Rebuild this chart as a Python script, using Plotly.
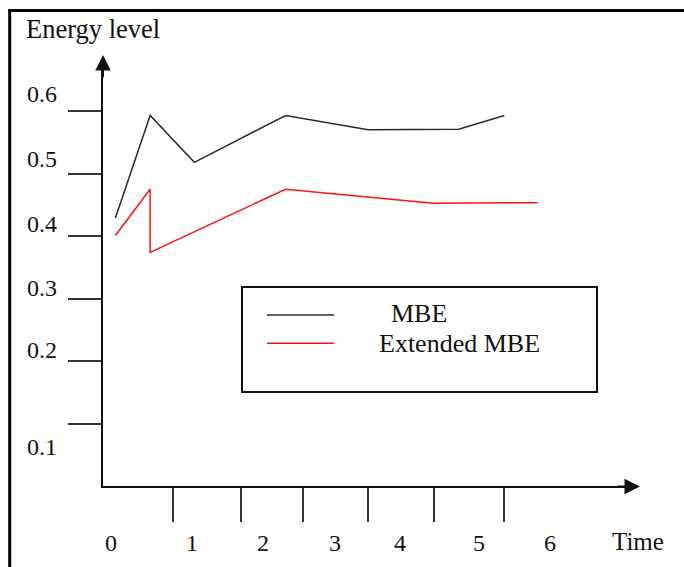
import plotly.graph_objects as go

# ---------------- data ----------------
time_mbe = [0, 0.48, 1.09, 2.35, 3.49, 4.74, 5.37]
energy_mbe = [0.429, 0.593, 0.518, 0.593, 0.570, 0.571, 0.593]

time_ext = [0, 0.48, 0.48, 2.35, 4.39, 5.83]
energy_ext = [0.401, 0.475, 0.374, 0.475, 0.4525, 0.4535]

series_names = ["MBE", "Extended MBE"]

x_label_values = [0, 1, 2, 3, 4, 5, 6]
x_tick_labels = ["0", "1", "2", "3", "4", "5", "6"]
x_tick_marks = [0.80, 1.74, 2.59, 3.49, 4.40, 5.37]

y_tick_values = [0.1, 0.2, 0.3, 0.4, 0.5, 0.6]
y_tick_labels = ["0.1", "0.2", "0.3", "0.4", "0.5", "0.6"]

x_title = "Time"
y_title = "Energy level"

# ---------------- layout helpers ----------------
W, H = 684, 567


def px(x):
    return x / W


def py(y):
    return 1 - y / H


FONT = "Liberation Serif"
INK = "#111111"
tick_font = dict(family=FONT, size=24, color=INK)
title_font = dict(family=FONT, size=25, color=INK)
ytitle_font = dict(family=FONT, size=26.5, color=INK)
legend_font = dict(family=FONT, size=26, color=INK)

# label nudges in pixels (labels in the drawing sit off their ticks)
y_label_shift = [-23, 11, 11, 12, 15, 17]
x_label_shift = [-4, 4, 3, 2, -5, 1, 0]

fig = go.Figure()
fig.add_trace(go.Scatter(x=time_mbe, y=energy_mbe, mode="lines", name=series_names[0],
                         line=dict(color="#2a2a2a", width=1.5), showlegend=False))
fig.add_trace(go.Scatter(x=time_ext, y=energy_ext, mode="lines", name=series_names[1],
                         line=dict(color="#ff1010", width=1.5), showlegend=False))

annotations = []
for v, lab, s in zip(y_tick_values, y_tick_labels, y_label_shift):
    annotations.append(dict(x=px(41.7), xref="paper", y=v, yref="y", yshift=s, text=lab,
                            showarrow=False, font=tick_font, xanchor="center", yanchor="middle"))
for t, lab, s in zip(x_label_values, x_tick_labels, x_label_shift):
    annotations.append(dict(x=t, xref="x", xshift=s, y=py(542.5), yref="paper", text=lab,
                            showarrow=False, font=tick_font, xanchor="center", yanchor="middle"))
annotations.append(dict(x=px(638), y=py(541.5), xref="paper", yref="paper", text=x_title,
                        showarrow=False, font=title_font, xanchor="center", yanchor="middle"))
annotations.append(dict(x=px(24), y=py(29), xref="paper", yref="paper", text=y_title,
                        showarrow=False, font=ytitle_font, xanchor="left", yanchor="middle"))
# legend texts
annotations.append(dict(x=px(419), y=py(313.5), xref="paper", yref="paper", text=series_names[0],
                        showarrow=False, font=legend_font, xanchor="center", yanchor="middle"))
annotations.append(dict(x=px(459), y=py(343.5), xref="paper", yref="paper", text=series_names[1],
                        showarrow=False, font=legend_font, xanchor="center", yanchor="middle"))
# axis arrowheads
annotations.append(dict(x=px(103), y=py(55), xref="paper", yref="paper", text="", showarrow=True,
                        ax=0, ay=24, arrowhead=2, arrowsize=1.55, arrowwidth=2, arrowcolor=INK))
annotations.append(dict(x=px(640), y=py(486.5), xref="paper", yref="paper", text="", showarrow=True,
                        ax=-24, ay=0, arrowhead=2, arrowsize=1.55, arrowwidth=2, arrowcolor=INK))

shapes = [
    # outer frame (left and top edges visible)
    dict(type="line", xref="paper", yref="paper", x0=px(9.7), x1=px(9.7), y0=py(10.5), y1=py(600),
         line=dict(color="#000000", width=3)),
    dict(type="line", xref="paper", yref="paper", x0=px(8.2), x1=px(700), y0=py(10.5), y1=py(10.5),
         line=dict(color="#000000", width=3)),
    # legend box
    dict(type="rect", xref="paper", yref="paper", x0=px(242), x1=px(597), y0=py(392), y1=py(287),
         line=dict(color="#111111", width=2)),
    dict(type="line", xref="paper", yref="paper", x0=px(267), x1=px(334), y0=py(315), y1=py(315),
         line=dict(color="#2a2a2a", width=1.5)),
    dict(type="line", xref="paper", yref="paper", x0=px(267), x1=px(334), y0=py(343.3), y1=py(343.3),
         line=dict(color="#ff1010", width=1.5)),
]

fig.update_layout(
    width=W, height=H, autosize=False,
    margin=dict(l=0, r=0, t=0, b=0, pad=0),
    paper_bgcolor="white", plot_bgcolor="white",
    xaxis=dict(domain=[px(103), px(625)], range=[-0.171, 7.036], anchor="y",
               showline=True, linecolor=INK, linewidth=2,
               ticks="outside", tickvals=x_tick_marks, ticklen=34, tickwidth=1.5, tickcolor="#333333",
               showticklabels=False, showgrid=False, zeroline=False, fixedrange=True),
    yaxis=dict(domain=[py(486), py(70)], range=[0, 0.6658], anchor="x",
               showline=True, linecolor=INK, linewidth=2,
               ticks="outside", tickvals=y_tick_values, ticklen=33, tickwidth=1.5, tickcolor="#333333",
               showticklabels=False, showgrid=False, zeroline=False, fixedrange=True),
    annotations=annotations,
    shapes=shapes,
    showlegend=False,
)

fig.write_html(
    "out.html",
    config={"displayModeBar": False},
    post_script="document.body.style.margin='0';document.body.style.overflow='hidden';"
                "document.documentElement.style.overflow='hidden';",
)
